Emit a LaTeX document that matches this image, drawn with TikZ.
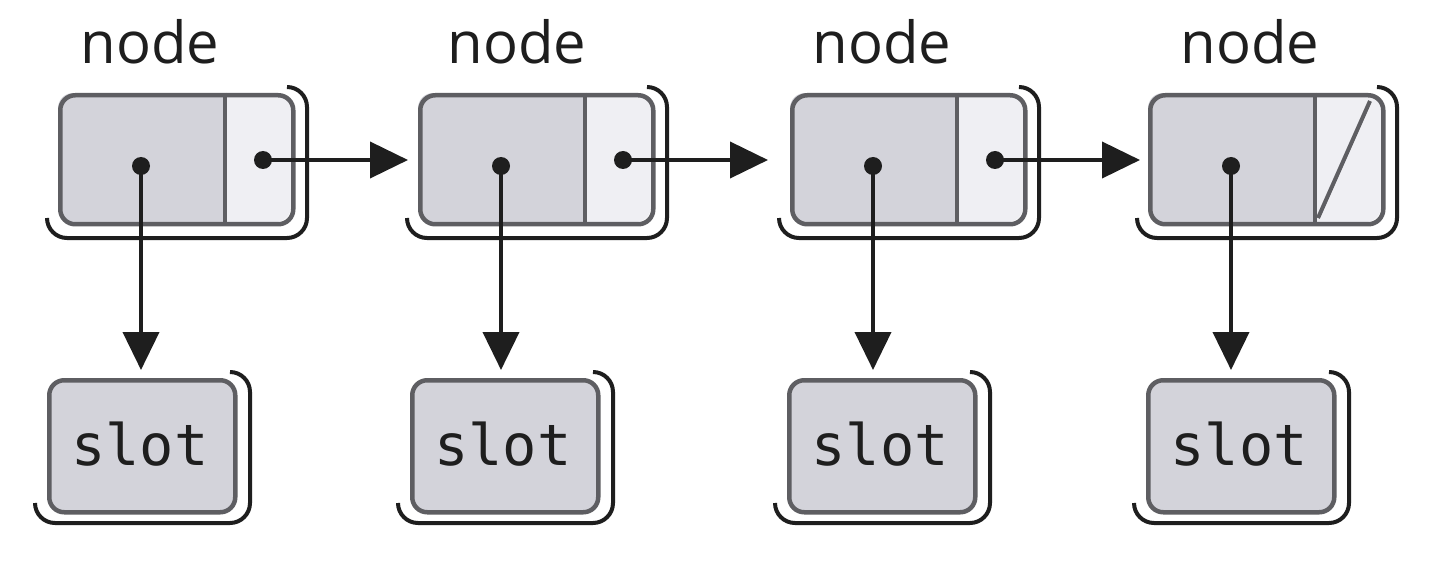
\documentclass[tikz,border=0pt]{standalone}
\usepackage{fontspec}
\setmainfont{Open Sans}
\newfontfamily\slotfont{DejaVu Sans Mono}
\usetikzlibrary{arrows.meta,calc}
\definecolor{grayfill}{HTML}{D3D3DA}
\definecolor{lightfill}{HTML}{EFEFF3}
\definecolor{bordercol}{HTML}{5E5E62}
\definecolor{inkcol}{HTML}{1E1E1E}
\tikzset{
  shadowline/.style={draw=inkcol, line width=4pt, rounded corners=20pt},
  boxshape/.style={draw=bordercol, line width=4.5pt, rounded corners=15pt, inner sep=0pt},
  divider/.style={draw=bordercol, line width=4pt},
  dotn/.style={circle, fill=inkcol, minimum size=18pt, inner sep=0pt},
  link/.style={draw=inkcol, line width=4pt, -{Triangle[length=38pt,width=36pt]}},
  nodelabel/.style={anchor=base, font=\fontsize{58}{60}\selectfont, text=inkcol, inner sep=0pt},
  slotlabel/.style={font=\slotfont\fontsize{57}{59}\selectfont, text=inkcol, inner sep=0pt},
}
% #1 left, #2 right, #3 top, #4 bottom
\newcommand\shadowrl[4]{%
  \draw[shadowline] (#2-20,#3) -- (#2,#3) -- (#2,#4) -- (#1,#4) -- (#1,#4-20);}
% #1 name, #2 left x, #3 label x
\newcommand\listnode[3]{%
  \shadowrl{#2-11}{#2+249}{87}{238}
  \begin{scope}
    \clip[rounded corners=15pt] (#2,93) rectangle (#2+233,222);
    \fill[grayfill] (#2,93) rectangle (#2+167,222);
    \fill[lightfill] (#2+167,93) rectangle (#2+233,222);
  \end{scope}
  \node[boxshape, minimum width=233pt, minimum height=129pt, anchor=north west] (#1) at (#2,93) {};
  \draw[divider] (#2+167,93) -- (#2+167,222);
  \node[nodelabel] (#1lab) at (#3,64) {node};
  \node[dotn] (#1d) at (#2+83,166) {};
}
% #1 name, #2 left x
\newcommand\slotbox[2]{%
  \shadowrl{#2-12}{#2+203}{372}{523}
  \node[boxshape, fill=grayfill, minimum width=186pt, minimum height=132pt, anchor=north west] (#1) at (#2,378) {};
  \node[slotlabel] (#1lab) at (#2+93,444) {slot};
}
\begin{document}
\begin{tikzpicture}[x=1pt,y=-1pt]
  \useasboundingbox[fill=white] (0,0) rectangle (1440,564);
  \listnode{na}{58}{150}
  \listnode{nb}{418}{517}
  \listnode{nc}{790}{882}
  \listnode{nd}{1148}{1250}
  \draw[divider] (1148+170,218) -- (1148+222,101);
  \node[dotn] (nap) at (263,160) {};
  \node[dotn] (nbp) at (623,160) {};
  \node[dotn] (ncp) at (995,160) {};
  \slotbox{sa}{47}
  \slotbox{sb}{410}
  \slotbox{sc}{787}
  \slotbox{sd}{1146}
  \draw[link, shorten >=10pt] (nap.center) -- (nap.center -| nb.west);
  \draw[link, shorten >=22pt] (nbp.center) -- (nbp.center -| nc.west);
  \draw[link, shorten >=8pt] (ncp.center) -- (ncp.center -| nd.west);
  \draw[link, shorten >=8pt] (nad.center) -- (nad.center |- sa.north);
  \draw[link, shorten >=8pt] (nbd.center) -- (nbd.center |- sb.north);
  \draw[link, shorten >=8pt] (ncd.center) -- (ncd.center |- sc.north);
  \draw[link, shorten >=8pt] (ndd.center) -- (ndd.center |- sd.north);
\end{tikzpicture}
\end{document}
